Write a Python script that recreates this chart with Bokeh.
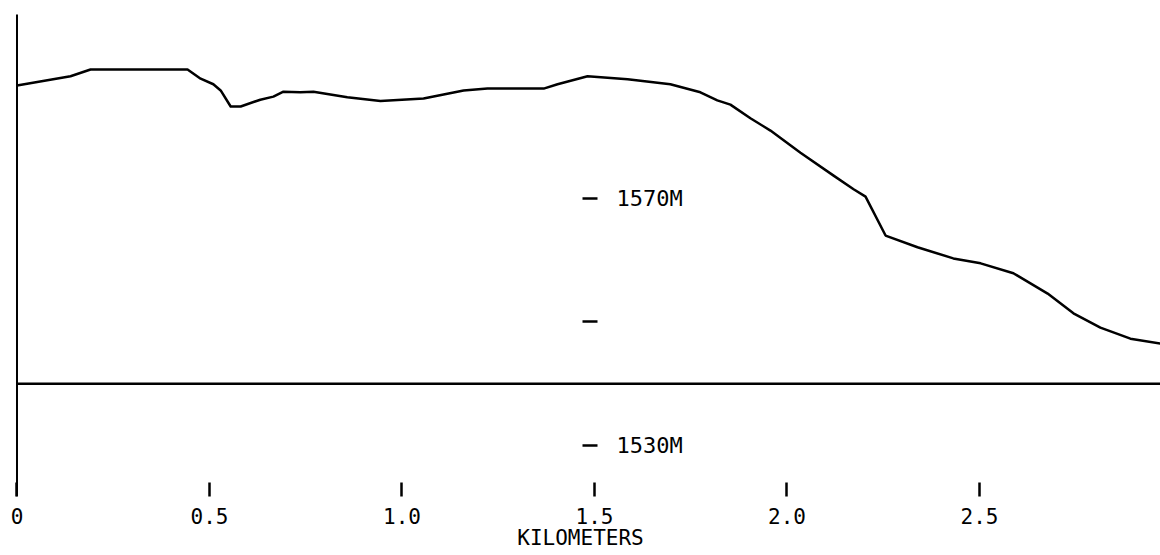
from bokeh.plotting import figure
from bokeh.models import Range1d, LinearAxis, FixedTicker
from bokeh.embed import file_html
from bokeh.resources import INLINE

# ---- data ----
DIST_KM = [0.0, 0.139, 0.191, 0.443, 0.477, 0.510, 0.529, 0.555, 0.581, 0.632,
           0.666, 0.692, 0.736, 0.770, 0.858, 0.944, 1.056, 1.160, 1.222, 1.368,
           1.404, 1.482, 1.586, 1.697, 1.775, 1.819, 1.853, 1.905, 1.957, 2.035,
           2.121, 2.173, 2.204, 2.256, 2.339, 2.432, 2.503, 2.588, 2.677, 2.744,
           2.814, 2.892, 2.970]
ELEV_M = [1588.3, 1589.8, 1590.9, 1590.9, 1589.4, 1588.5, 1587.5, 1584.9, 1584.9, 1586.0,
          1586.5, 1587.3, 1587.2, 1587.3, 1586.4, 1585.8, 1586.2, 1587.5, 1587.8, 1587.8,
          1588.5, 1589.8, 1589.3, 1588.5, 1587.2, 1585.9, 1585.2, 1583.0, 1581.0, 1577.4,
          1573.7, 1571.5, 1570.3, 1564.0, 1562.1, 1560.3, 1559.5, 1557.9, 1554.6, 1551.4,
          1549.1, 1547.3, 1546.5]
X_TICKS = [0, 0.5, 1.0, 1.5, 2.0, 2.5]
X_TICK_LABELS = ["0", "0.5", "1.0", "1.5", "2.0", "2.5"]
Y_TICKS = [1530, 1550, 1570]
Y_TICK_LABELS = ["1530M", "", "1570M"]
X_LABEL = "KILOMETERS"
BASE_ELEV = 1540
Y_AXIS_AT_KM = 1.5

# ---- layout / style constants ----
X_AXIS_AT_M = 1521.8
FRAME_TOP_M = 1599.8
FONT = "DejaVu Sans Mono"

p = figure(width=1160, height=555,
           x_range=Range1d(-0.042857, 2.97013), y_range=Range1d(1512.186, 1602.065),
           x_axis_type=None, y_axis_type=None,
           toolbar_location=None, output_backend="svg",
           min_border=0, outline_line_color=None)
p.background_fill_color = "white"
p.border_fill_color = "white"

# left vertical line at x = 0
p.segment(x0=[0], y0=[X_AXIS_AT_M], x1=[0], y1=[FRAME_TOP_M],
          line_color="black", line_width=2)
# horizontal base line
p.segment(x0=[0], y0=[BASE_ELEV], x1=[3.2], y1=[BASE_ELEV],
          line_color="black", line_width=2.5)
# profile
p.line(DIST_KM, ELEV_M, line_color="black", line_width=2.5, line_join="round")

# x axis drawn inside the plot
xaxis = LinearAxis(fixed_location=X_AXIS_AT_M,
                   ticker=FixedTicker(ticks=X_TICKS, minor_ticks=[]),
                   major_label_overrides={t: l for t, l in zip(X_TICKS, X_TICK_LABELS)},
                   axis_label=X_LABEL)
xaxis.axis_line_color = None
xaxis.major_tick_in = 14
xaxis.major_tick_out = 0
xaxis.major_tick_line_width = 2.5
xaxis.major_tick_line_color = "black"
xaxis.minor_tick_line_color = None
xaxis.major_label_standoff = 12
xaxis.major_label_text_font = FONT
xaxis.major_label_text_font_size = "21px"
xaxis.major_label_text_color = "black"
xaxis.axis_label_text_font = FONT
xaxis.axis_label_text_font_size = "21px"
xaxis.axis_label_text_font_style = "normal"
xaxis.axis_label_text_color = "black"
xaxis.axis_label_standoff = -2
p.add_layout(xaxis, "below")

# y axis drawn inside the plot at 1.5 km
yaxis = LinearAxis(fixed_location=Y_AXIS_AT_KM,
                   ticker=FixedTicker(ticks=Y_TICKS, minor_ticks=[]),
                   major_label_overrides={t: l for t, l in zip(Y_TICKS, Y_TICK_LABELS)})
yaxis.axis_line_color = None
yaxis.major_tick_in = 12
yaxis.major_tick_out = 3
yaxis.major_tick_line_width = 2.5
yaxis.major_tick_line_color = "black"
yaxis.minor_tick_line_color = None
yaxis.major_label_standoff = 19
yaxis.major_label_text_font = FONT
yaxis.major_label_text_font_size = "22px"
yaxis.major_label_text_color = "black"
p.add_layout(yaxis, "right")

open("out.html", "w").write(file_html(p, INLINE))
